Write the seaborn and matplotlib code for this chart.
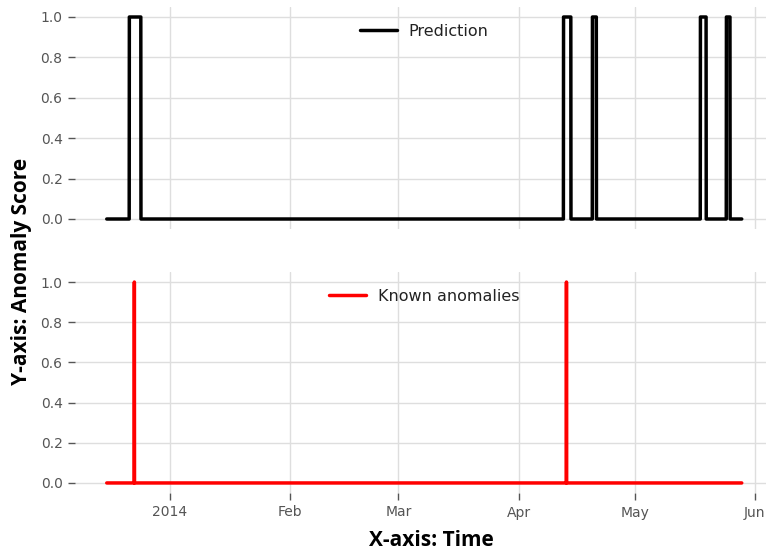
import numpy as np
import pandas as pd
import matplotlib
matplotlib.use("Agg")
import matplotlib.pyplot as plt
import matplotlib.dates as mdates
import seaborn as sns

# Hourly evaluation window
series_start = "2013-12-15 17:00"
series_end = "2014-05-28 15:00"

# Intervals flagged by the detector (score = 1 inside each interval)
pred_starts = ["2013-12-21 13:00", "2014-04-12 15:00", "2014-04-20 02:00",
               "2014-05-17 23:00", "2014-05-24 16:00"]
pred_ends = ["2013-12-24 12:00", "2014-04-14 12:00", "2014-04-21 02:00",
             "2014-05-19 10:00", "2014-05-25 14:00"]

# Labelled anomaly timestamps
known_anomalies = ["2013-12-22 20:00", "2014-04-13 09:00"]

y_ticks = [0.0, 0.2, 0.4, 0.6, 0.8, 1.0]

time_index = pd.date_range(series_start, series_end, freq="h")
prediction = np.zeros(len(time_index))
for s, e in zip(pred_starts, pred_ends):
    prediction[(time_index >= pd.Timestamp(s)) & (time_index <= pd.Timestamp(e))] = 1.0
known = np.zeros(len(time_index))
for t in known_anomalies:
    known[time_index == pd.Timestamp(t)] = 1.0

df = pd.DataFrame({"time": time_index, "prediction": prediction, "known": known})

sns.set_style("whitegrid", {"grid.color": "#dedede", "axes.edgecolor": "white"})
plt.rcParams["font.family"] = ["DejaVu Sans"]

fig = plt.figure(figsize=(7.66, 5.53), dpi=100)
W, H = 766.0, 553.0
ax_top = fig.add_axes([75 / W, (H - 229.1) / H, 698.5 / W, 222.2 / H])
ax_bot = fig.add_axes([75 / W, (H - 493.0) / H, 698.5 / W, 221.0 / H], sharex=ax_top)

sns.lineplot(data=df, x="time", y="prediction", ax=ax_top, color="black",
             linewidth=2.5, label="Prediction", estimator=None)
sns.lineplot(data=df, x="time", y="known", ax=ax_bot, color="#ff0000",
             linewidth=2.5, label="Known anomalies", estimator=None)

locator = mdates.MonthLocator()
for ax in (ax_top, ax_bot):
    ax.set_ylim(-0.05, 1.05)
    ax.set_yticks(y_ticks)
    ax.set_xlabel("")
    ax.set_ylabel("")
    for sp in ax.spines.values():
        sp.set_visible(False)
    ax.grid(True, color="#dedede", lw=1)
    ax.tick_params(axis="y", which="both", left=True, length=5, width=1,
                   color="#555555", labelcolor="#555555", labelsize=10, pad=4)
    ax.xaxis.set_major_locator(locator)
    ax.xaxis.set_major_formatter(mdates.ConciseDateFormatter(locator, show_offset=False))
    leg = ax.legend(loc="upper center", frameon=False, fontsize=11.5,
                    handlelength=2.3, handletextpad=0.75, borderaxespad=0.65)
    for txt in leg.get_texts():
        txt.set_color("#222222")

ax_top.tick_params(axis="x", bottom=False, labelbottom=False)
ax_bot.tick_params(axis="x", bottom=True, length=5, width=1, color="#555555",
                   labelcolor="#555555", labelsize=10, pad=4)

label_font = ["Open Sans", "DejaVu Sans"]
fig.text(22 / W, 1 - 271 / H, "Y-axis: Anomaly Score", rotation=90,
         ha="center", va="center", fontsize=15, fontweight="bold",
         family=label_font, color="black")
fig.text(431 / W, 1 - 540 / H, "X-axis: Time", ha="center", va="center",
         fontsize=15, fontweight="bold", family=label_font, color="black")

fig.savefig("out.png", dpi=100)
